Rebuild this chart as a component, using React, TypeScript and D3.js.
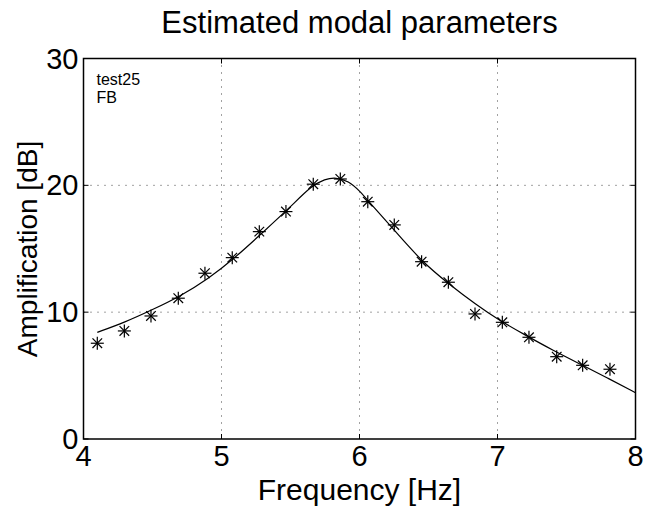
import React from "react";
import * as d3 from "d3";

const xTicks = [4, 5, 6, 7, 8];
const yTicks = [0, 10, 20, 30];

const measFreq = [4.1, 4.296, 4.489, 4.687, 4.88, 5.078, 5.274, 5.467, 5.665, 5.861, 6.06, 6.252, 6.45, 6.644, 6.837, 7.035, 7.228, 7.429, 7.617, 7.815];
const measAmp = [7.55, 8.52, 9.7, 11.1, 13.07, 14.3, 16.35, 17.93, 20.09, 20.5, 18.71, 16.88, 13.98, 12.36, 9.86, 9.2, 8.02, 6.49, 5.81, 5.5];

const fitFreq = [4.1, 4.3, 4.5, 4.7, 4.9, 5.1, 5.3, 5.5, 5.65, 5.75, 5.83, 5.92, 6.0, 6.1, 6.25, 6.45, 6.65, 6.85, 7.0, 7.2, 7.4, 7.6, 7.8, 8.0];
const fitAmp = [8.41, 9.2, 10.2, 11.25, 12.6, 14.3, 16.3, 18.3, 19.95, 20.5, 20.62, 20.35, 19.6, 18.3, 16.5, 14.0, 12.2, 10.55, 9.45, 8.2, 7.0, 5.9, 4.8, 3.65];

const W = 648, H = 515;
const L = 83.5, R = 635.5, T = 58.5, B = 439;
const FONT = "'Liberation Sans', Arial, Helvetica, sans-serif";

export default function App() {
  const x = d3.scaleLinear().domain([4, 8]).range([L, R]);
  const y = d3.scaleLinear().domain([0, 30]).range([B, T]);
  const line = d3
    .line<number>()
    .x((_, i) => x(fitFreq[i]))
    .y((d) => y(d))
    .curve(d3.curveBasis);
  const tl = 5;
  return (
    <svg width={W} height={H} style={{ position: "absolute", left: 0, top: 0, background: "#fff" }}>
      <rect x={0} y={0} width={W} height={H} fill="#fff" />
      {xTicks.slice(1, -1).map((t) => (
        <line key={"gx" + t} x1={x(t)} x2={x(t)} y1={T} y2={B} stroke="#444" strokeWidth={1} strokeDasharray="1,6" />
      ))}
      {yTicks.slice(1, -1).map((t) => (
        <line key={"gy" + t} x1={L} x2={R} y1={y(t)} y2={y(t)} stroke="#444" strokeWidth={1} strokeDasharray="1,6" />
      ))}
      {xTicks.map((t) => (
        <g key={"tx" + t}>
          <line x1={x(t)} x2={x(t)} y1={B} y2={B - tl} stroke="#000" strokeWidth={1} />
          <line x1={x(t)} x2={x(t)} y1={T} y2={T + tl} stroke="#000" strokeWidth={1} />
          <text x={x(t)} y={B + 27} textAnchor="middle" fontFamily={FONT} fontSize={29} fill="#000">
            {t}
          </text>
        </g>
      ))}
      {yTicks.map((t) => (
        <g key={"ty" + t}>
          <line x1={L} x2={L + tl} y1={y(t)} y2={y(t)} stroke="#000" strokeWidth={1} />
          <line x1={R} x2={R - tl} y1={y(t)} y2={y(t)} stroke="#000" strokeWidth={1} />
          <text x={L - 5} y={y(t) + 10} textAnchor="end" fontFamily={FONT} fontSize={29} fill="#000">
            {t}
          </text>
        </g>
      ))}
      <path d={line(fitAmp) || ""} fill="none" stroke="#000" strokeWidth={1.2} />
      {measFreq.map((f, i) => {
        const cx = x(f), cy = y(measAmp[i]);
        const s = 6.5, d = 4.8;
        return (
          <g key={"m" + i} stroke="#000" strokeWidth={1.2}>
            <line x1={cx - s} x2={cx + s} y1={cy} y2={cy} />
            <line x1={cx} x2={cx} y1={cy - s} y2={cy + s} />
            <line x1={cx - d} x2={cx + d} y1={cy - d} y2={cy + d} />
            <line x1={cx - d} x2={cx + d} y1={cy + d} y2={cy - d} />
          </g>
        );
      })}
      <rect x={L} y={T} width={R - L} height={B - T} fill="none" stroke="#000" strokeWidth={1.5} />
      <text x={96.5} y={85} fontFamily={FONT} fontSize={16} fill="#000">test25</text>
      <text x={96.5} y={103} fontFamily={FONT} fontSize={16} fill="#000">FB</text>
      <text x={(L + R) / 2} y={33} textAnchor="middle" fontFamily={FONT} fontSize={31} fill="#000">
        Estimated modal parameters
      </text>
      <text x={(L + R) / 2} y={500} textAnchor="middle" fontFamily={FONT} fontSize={30} fill="#000">
        Frequency [Hz]
      </text>
      <text
        transform={`translate(37, 249) rotate(-90)`}
        textAnchor="middle"
        fontFamily={FONT}
        fontSize={28}
        fill="#000"
      >
        Amplification [dB]
      </text>
    </svg>
  );
}
